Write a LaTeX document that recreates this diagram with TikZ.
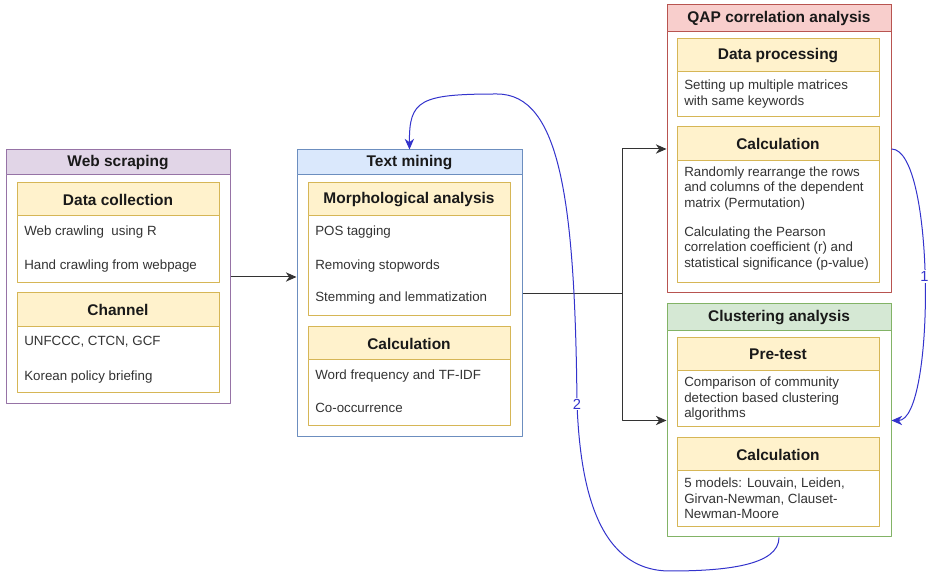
\documentclass[tikz,border=0pt]{standalone}
\usepackage{fontspec}
\setmainfont{Liberation Sans}
\usetikzlibrary{arrows.meta,calc,positioning,fit}

\definecolor{webline}{HTML}{9673A6}\definecolor{webfill}{HTML}{E1D5E7}
\definecolor{tmline}{HTML}{6C8EBF}\definecolor{tmfill}{HTML}{DAE8FC}
\definecolor{qapline}{HTML}{B85450}\definecolor{qapfill}{HTML}{F8CECC}
\definecolor{clline}{HTML}{82B366}\definecolor{clfill}{HTML}{D5E8D4}
\definecolor{subline}{HTML}{D6B656}\definecolor{subfill}{HTML}{FFF2CC}
\definecolor{loopblue}{HTML}{3333CC}

\tikzset{
  cont/.style={draw=#1line, fill=white, inner sep=0pt, line width=0.75pt},
  hdr/.style={draw=#1line, fill=#1fill, inner sep=0pt, line width=0.75pt},
  title/.style={inner sep=0pt, font=\bfseries\fontsize{11.6}{14}\selectfont, text=black!90},
  item/.style={anchor=west, inner sep=0pt, align=left,
    font=\fontsize{10}{11.6}\selectfont, text=black!80},
  flow/.style={draw=loopblue, line width=0.75pt},
  num/.style={fill=white, inner sep=1pt, text=loopblue, font=\fontsize{11}{13}\selectfont}
}

\begin{document}
\begin{tikzpicture}[x=0.75pt, y=-0.75pt, >={Stealth[length=8pt,width=7pt,inset=2.5pt]}, line join=round]
  \useasboundingbox (0,0) rectangle (932,580);

  % web scraping
  \node[cont=web, fit={(6,150)(230,404)}] (web) {};
  \node[hdr=web, fit={(6,150)(230,175)}] (webhd) {};
  \node[title] at (webhd) {Web scraping};
  \node[cont=sub, fit={(17,183)(219,283)}] (dc) {};
  \node[hdr=sub, fit={(17,183)(219,216)}] (dchd) {};
  \node[title] at (dchd) {Data collection};
  \node[item] (dc1) at (24,232) {Web crawling~ using R};
  \node[item] (dc2) at (24,266) {Hand crawling from webpage};
  \node[cont=sub, fit={(17,293)(219,393)}] (ch) {};
  \node[hdr=sub, fit={(17,293)(219,327)}] (chhd) {};
  \node[title] at (chhd) {Channel};
  \node[item] (ch1) at (24,342) {UNFCCC, CTCN, GCF};
  \node[item] (ch2) at (24,377) {Korean policy briefing};

  % text mining
  \node[cont=tm, fit={(297,150)(522,437)}] (tm) {};
  \node[hdr=tm, fit={(297,150)(522,175)}] (tmhd) {};
  \node[title] at (tmhd) {Text mining};
  \node[cont=sub, fit={(308,183)(510,316)}] (ma) {};
  \node[hdr=sub, fit={(308,183)(510,216)}] (mahd) {};
  \node[title] at (mahd) {Morphological analysis};
  \node[item] (ma1) at (315,232) {POS tagging};
  \node[item] (ma2) at (315,266) {Removing stopwords};
  \node[item] (ma3) at (315,298) {Stemming and lemmatization};
  \node[cont=sub, fit={(308,327)(510,426)}] (tc) {};
  \node[hdr=sub, fit={(308,327)(510,360)}] (tchd) {};
  \node[title] at (tchd) {Calculation};
  \node[item] (tc1) at (315,376) {Word frequency and TF-IDF};
  \node[item] (tc2) at (315,408) {Co-occurrence};

  % QAP correlation analysis
  \node[cont=qap, fit={(667,5)(891,293)}] (qap) {};
  \node[hdr=qap, fit={(667,5)(891,32)}] (qaphd) {};
  \node[title] at (qaphd) {QAP correlation analysis};
  \node[cont=sub, fit={(677,39)(879,117)}] (dp) {};
  \node[hdr=sub, fit={(677,39)(879,72)}] (dphd) {};
  \node[title] at (dphd) {Data processing};
  \node[item] (dp1) at (684,94) {Setting up multiple matrices\\with same keywords};
  \node[cont=sub, fit={(677,127)(879,283)}] (qc) {};
  \node[hdr=sub, fit={(677,127)(879,161)}] (qchd) {};
  \node[title] at (qchd) {Calculation};
  \node[item] (qc1) at (684,188.5) {Randomly rearrange the rows\\and columns of the dependent\\matrix (Permutation)};
  \node[item] (qc2) at (684,248.5) {Calculating the Pearson\\correlation coefficient (r) and\\statistical significance (p-value)};

  % clustering analysis
  \node[cont=cl, fit={(667,304)(891,537)}] (cl) {};
  \node[hdr=cl, fit={(667,304)(891,331)}] (clhd) {};
  \node[title] at (clhd) {Clustering analysis};
  \node[cont=sub, fit={(677,338)(879,427)}] (pt) {};
  \node[hdr=sub, fit={(677,338)(879,371)}] (pthd) {};
  \node[title] at (pthd) {Pre-test};
  \node[item] (pt1) at (684,399) {Comparison of community\\detection based clustering\\algorithms};
  \node[cont=sub, fit={(677,438)(879,527)}] (cc) {};
  \node[hdr=sub, fit={(677,438)(879,471)}] (cchd) {};
  \node[title] at (cchd) {Calculation};
  \node[item] (cc1) at (684,498.5) {5 models: Louvain, Leiden,\\Girvan-Newman, Clauset-\\Newman-Moore};

  % main flow
  \draw[->, black!80, line width=0.75pt] (web.east) -- (web.east -| tm.west);
  \coordinate (fork) at ($(tm.east)+(100,0)$);
  \draw[->, black!80, line width=0.75pt] (tm.east) -- (fork) |- (qap.west);
  \draw[->, black!80, line width=0.75pt] (fork) |- (cl.west);

  % feedback loops
  \draw[flow, ->] (qap.east) .. controls +(44,0) and +(44,0) .. node[num, pos=0.48] {1} (cl.east);
  \draw[flow, ->] (cl.south) .. controls +(0,28) and (725,571) .. (670,571)
    .. controls (595,571) and (580,480) .. (577,404) node[num] {2}
    .. controls (575,200) and (560,94) .. (497,94)
    .. controls (420,94) and (409,100) .. (tm.north);

\end{tikzpicture}
\end{document}
